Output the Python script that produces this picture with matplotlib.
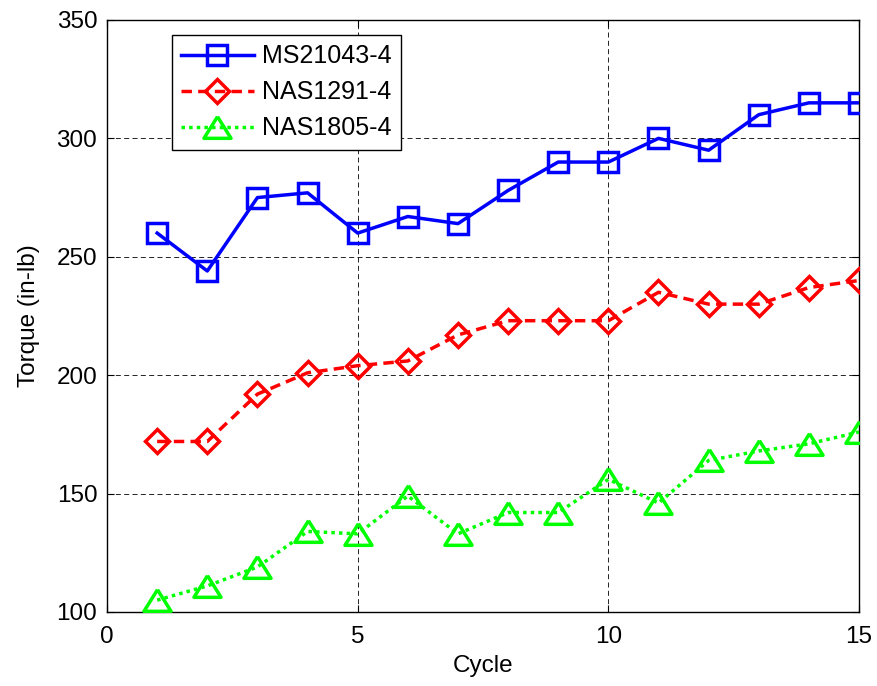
import matplotlib
matplotlib.use("Agg")
import matplotlib.pyplot as plt

plt.rcParams['font.family'] = ['Liberation Sans', 'DejaVu Sans']

cycles = list(range(1, 16))
ms21043 = [260, 244, 275, 277, 260, 267, 264, 278, 290, 290, 300, 295, 310, 315, 315]
nas1291 = [172, 172, 192, 201, 204, 206, 217, 223, 223, 223, 235, 230, 230, 237, 240]
nas1805 = [105, 111, 119, 134, 133, 149, 133, 142, 142, 156, 146, 164, 168, 171, 176]
labels = ["MS21043-4", "NAS1291-4", "NAS1805-4"]
xticks = [0, 5, 10, 15]
yticks = [100, 150, 200, 250, 300, 350]

FS = 17.5

fig = plt.figure(figsize=(8.78, 6.86), dpi=100)
ax = fig.add_axes([0.1219, 0.1079, 0.8565, 0.8630])

tri = [(0, 0.8), (-1, -0.8), (1, -0.8), (0, 0.8)]

ax.plot(cycles, ms21043, color='#0000ff', lw=2.5, ls='-', marker='s', ms=14,
        mfc='none', mec='#0000ff', mew=2.5, label=labels[0], zorder=3)
ax.plot(cycles, nas1291, color='#ff0000', lw=2.5, ls=(0, (3, 1.8)), marker='D', ms=12.5,
        mfc='none', mec='#ff0000', mew=2.5, label=labels[1], zorder=3)
ax.plot(cycles, nas1805, color='#00ff00', lw=2.5, ls=(0, (1, 1.2)), marker=tri, ms=19.5,
        mfc='none', mec='#00ff00', mew=2.5, label=labels[2], zorder=3)

ax.set_xlim(0, 15)
ax.set_ylim(100, 350)
ax.set_xticks(xticks)
ax.set_yticks(yticks)
ax.tick_params(direction='in', top=True, right=True, labelsize=FS, length=5, width=0.8)
ax.tick_params(axis='y', pad=7)
ax.tick_params(axis='x', pad=10)
ax.grid(True, color='black', ls=(0, (6, 4)), lw=0.6)
for s in ax.spines.values():
    s.set_linewidth(1.0)

ax.set_xlabel("Cycle", fontsize=FS, labelpad=5)
ax.set_ylabel("Torque (in-lb)", fontsize=FS, labelpad=12)

leg = ax.legend(loc='upper left', bbox_to_anchor=(0.086, 0.975), fontsize=18,
                frameon=True, fancybox=False, edgecolor='black', framealpha=1,
                handlelength=2.9, borderaxespad=0, labelspacing=0.48, handletextpad=0.32,
                borderpad=0.38)
leg.get_frame().set_linewidth(1.0)

fig.savefig("out.png", dpi=100)
